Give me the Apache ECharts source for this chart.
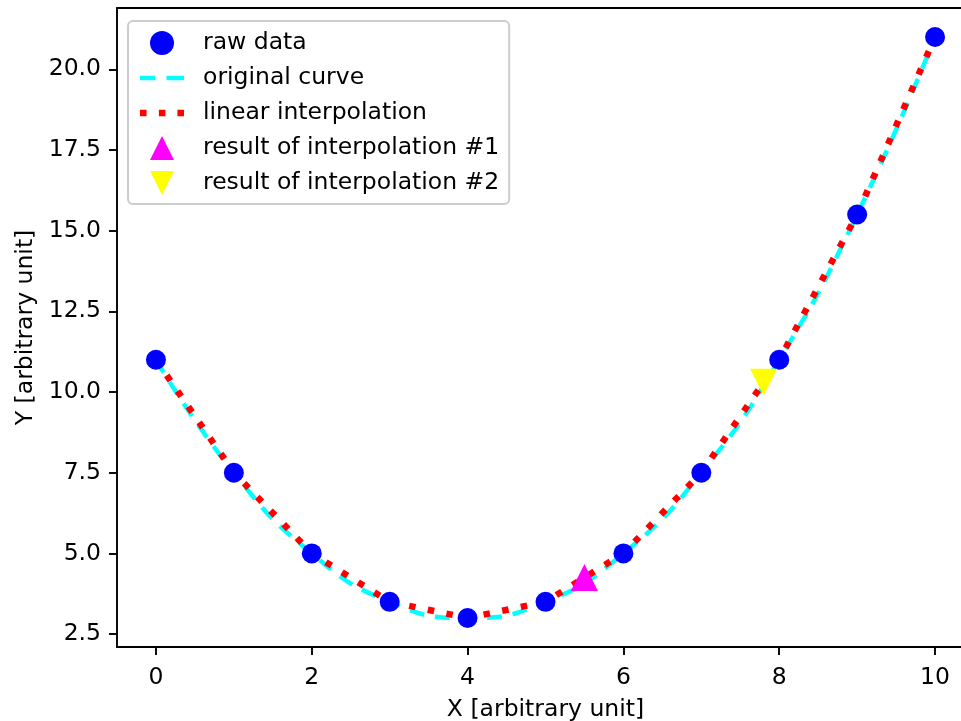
<!DOCTYPE html>
<html>
<head>
<meta charset="utf-8">
<script src="https://cdn.jsdelivr.net/npm/echarts@6/dist/echarts.min.js"></script>
<style>
  html, body { margin: 0; padding: 0; background: #fff; overflow: hidden; }
  #main { width: 980px; height: 721px; }
</style>
</head>
<body>
<div id="main"></div>
<script>
// raw samples
var xRaw = [0, 1, 2, 3, 4, 5, 6, 7, 8, 9, 10];
var yRaw = [11, 7.5, 5, 3.5, 3, 3.5, 5, 7.5, 11, 15.5, 21];
// interpolation results
var interp1 = [5.5, 4.25];
var interp2 = [7.8, 10.3];
// tick labels
var xTicks = [0, 2, 4, 6, 8, 10];
var yTicks = [2.5, 5, 7.5, 10, 12.5, 15, 17.5, 20];

var FS = 23.5;
var rawPts = xRaw.map(function (x, i) { return [x, yRaw[i]]; });

// legend glyphs for the two line styles (dashes / dots)
var dashIcon = 'path://M0,0h15v4.5h-15z M26.5,0h17.5v4.5h-17.5z';
var dotIcon = 'path://M0,0h6.7v6.7h-6.7z M19.3,0h6.7v6.7h-6.7z M38.3,0h6.7v6.7h-6.7z';

var spine = { show: true, onZero: false, lineStyle: { color: '#000', width: 1.9 } };

var myChart = echarts.init(document.getElementById('main'), null, { renderer: 'canvas' });

var option = {
    animation: false,
    backgroundColor: '#fff',
    textStyle: { fontFamily: 'DejaVu Sans', color: '#000' },
    grid: {
        left: 117, top: 8, right: 6, bottom: 74,
        outerBoundsMode: 'none',
        containLabel: false,
        show: false
    },
    legend: {
        orient: 'vertical',
        left: 128, top: 21,
        padding: [10, 10, 9, 12],
        itemGap: 11,
        itemWidth: 44,
        itemHeight: 24,
        borderColor: '#cccccc',
        borderWidth: 2,
        borderRadius: 5,
        backgroundColor: 'rgba(255,255,255,0.8)',
        textStyle: { fontSize: FS, color: '#000', fontFamily: 'DejaVu Sans', padding: [0, 0, 0, 14] },
        data: [
            { name: 'raw data', icon: 'circle' },
            { name: 'original curve', icon: dashIcon },
            { name: 'linear interpolation', icon: dotIcon },
            { name: 'result of interpolation #1', icon: 'path://M1,0L2,2L0,2Z' },
            { name: 'result of interpolation #2', icon: 'path://M0,0L2,0L1,2Z' }
        ]
    },
    xAxis: [{
        type: 'value',
        min: -0.5, max: 10.5,
        name: 'X [arbitrary unit]',
        nameLocation: 'middle',
        nameGap: 51,
        nameTextStyle: { fontSize: FS, color: '#000' },
        axisLine: spine,
        axisTick: { show: true, length: 8, lineStyle: { color: '#000', width: 1.9 }, customValues: xTicks },
        axisLabel: { fontSize: FS, color: '#000', margin: 19, customValues: xTicks },
        splitLine: { show: false }
    }, {
        // top spine only
        type: 'value',
        position: 'top',
        min: -0.5, max: 10.5,
        axisLine: spine,
        axisTick: { show: false },
        axisLabel: { show: false },
        splitLine: { show: false }
    }],
    yAxis: {
        type: 'value',
        min: 2.1, max: 21.9,
        name: 'Y [arbitrary unit]',
        nameLocation: 'middle',
        nameGap: 78,
        nameTextStyle: { fontSize: FS, color: '#000' },
        axisLine: spine,
        axisTick: { show: true, length: 8, lineStyle: { color: '#000', width: 1.9 }, customValues: yTicks },
        axisLabel: {
            fontSize: FS, color: '#000', margin: 16, customValues: yTicks,
            formatter: function (v) { return v.toFixed(1); }
        },
        splitLine: { show: false }
    },
    series: [
        {
            name: 'raw data',
            type: 'scatter',
            data: rawPts,
            symbol: 'circle',
            symbolSize: 20,
            itemStyle: { color: '#0000ff', opacity: 1 },
            z: 5
        },
        {
            name: 'original curve',
            type: 'line',
            data: rawPts,
            smooth: 0.5,
            symbol: 'none',
            showSymbol: false,
            lineStyle: { color: '#00ffff', width: 4.5, type: [15, 11], cap: 'butt' },
            itemStyle: { color: '#00ffff' },
            z: 3
        },
        {
            name: 'linear interpolation',
            type: 'line',
            data: rawPts,
            symbol: 'none',
            showSymbol: false,
            lineStyle: { color: '#ff0000', width: 6.5, type: [6.5, 12.5], cap: 'butt' },
            itemStyle: { color: '#ff0000' },
            z: 4
        },
        {
            name: 'result of interpolation #1',
            type: 'scatter',
            data: [interp1],
            symbol: 'triangle',
            symbolSize: 27,
            itemStyle: { color: '#ff00ff', opacity: 1 },
            z: 6
        },
        {
            name: 'result of interpolation #2',
            type: 'scatter',
            data: [interp2],
            symbol: 'triangle',
            symbolRotate: 180,
            symbolSize: 27,
            itemStyle: { color: '#ffff00', opacity: 1 },
            z: 6
        }
    ]
};

myChart.setOption(option);
</script>
</body>
</html>
